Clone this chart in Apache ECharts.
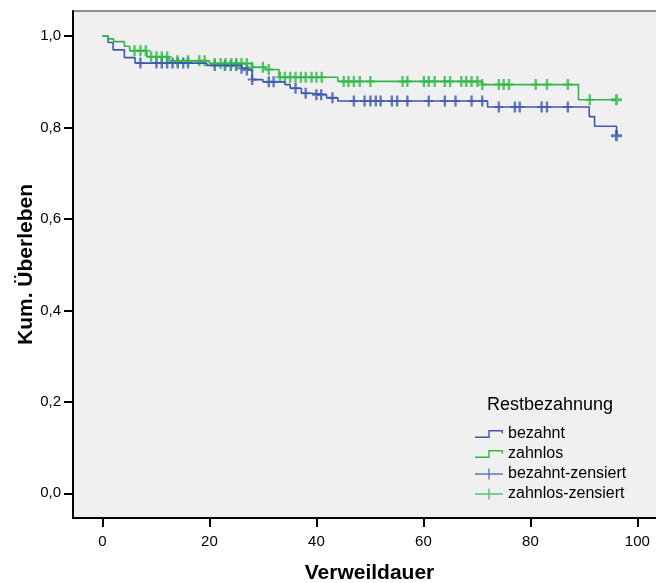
<!DOCTYPE html>
<html>
<head>
<meta charset="utf-8">
<script src="https://cdn.jsdelivr.net/npm/echarts@6/dist/echarts.min.js"></script>
<style>
html, body { margin: 0; padding: 0; background: #fff; }
#main { width: 656px; height: 583px; }
</style>
</head>
<body>
<div id="main"></div>
<script>
// Kaplan-Meier Kurven, Werte
var bezahntTime = [0, 1.05, 2, 4.1, 6.1, 19.5, 26, 27, 28, 30, 34.1, 35.1, 37.2, 39, 41.9, 44, 72, 91, 92, 96.1];
var bezahntSurv = [1.0, 0.986, 0.970, 0.953, 0.941, 0.936, 0.930, 0.926, 0.905, 0.900, 0.894, 0.886, 0.875, 0.872, 0.865, 0.858, 0.845, 0.824, 0.803, 0.782];

var zahnlosTime = [0, 1.1, 2.1, 4.1, 5.1, 8.3, 12.5, 20, 28, 30.5, 33, 44, 71, 89, 96.1];
var zahnlosSurv = [1.0, 0.994, 0.988, 0.978, 0.968, 0.955, 0.946, 0.940, 0.932, 0.927, 0.910, 0.901, 0.894, 0.861, 0.861];

// zensierte Faelle (Zeitpunkte)
var bezahntCensored = [7.1, 10.1, 11.1, 12.1, 13.1, 14.1, 15.1, 16, 21, 22.9, 24, 25, 26, 27, 28, 31.1, 32,
  36.1, 38, 40, 40.9, 43, 47, 49, 50.1, 51.1, 52, 54.1, 55.1, 57, 61, 64, 66, 69, 71, 74.1, 77.1, 78,
  82.1, 83.1, 87, 96.1];
var zahnlosCensored = [6, 7.1, 8.1, 9.1, 10.1, 11.1, 12.1, 14, 16, 18.1, 19.1, 21, 22.1, 23, 24.1, 25, 26, 27,
  28, 30, 31.1, 33.2, 34.1, 35.1, 36.1, 37.1, 38, 39.1, 40, 41, 45.1, 46, 47, 48.1, 50.1, 56.1, 57, 60.1,
  61, 62.1, 64, 65, 67.1, 68, 69, 70.1, 71, 74.1, 75, 76, 81, 83.1, 87, 91.1, 96.1];

var xTicks = [0, 20, 40, 60, 80, 100];
var yTicks = [0, 0.2, 0.4, 0.6, 0.8, 1.0];
var yTickLabels = ['0,0', '0,2', '0,4', '0,6', '0,8', '1,0'];

var BLUE = '#3e58ac';
var GREEN = '#2eb848';
var FONT = 'Liberation Sans, Arial, sans-serif';

var PLUS = 'path://M3.3,0 H5.7 V4.5 H9 V6.5 H5.7 V11 H3.3 V6.5 H0 V4.5 H3.3 Z';
var PLUS_BIG = 'path://M4,0 H7 V4 H11 V7 H7 V11 H4 V7 H0 V4 H4 Z';
var STEP_ICON = 'path://M0,6.6 H13.3 V0 H28 V3.5 H26.6 V1.4 H14.7 V8 H0 Z';
var CENS_ICON = 'path://M0,4.8 H13.3 V0 H14.7 V4.8 H28 V6.2 H14.7 V11 H13.3 V6.2 H0 Z';

function zip(a, b) {
  var out = [];
  for (var i = 0; i < a.length; i++) out.push([a[i], b[i]]);
  return out;
}

// Wert der Treppenfunktion zum Zeitpunkt t
function survAt(times, surv, t) {
  var s = surv[0];
  for (var i = 0; i < times.length; i++) {
    if (times[i] <= t + 1e-9) s = surv[i];
  }
  return s;
}

function censData(cens, times, surv) {
  return cens.map(function (t, i) {
    var item = { value: [t, survAt(times, surv, t)] };
    if (i === cens.length - 1) {
      item.symbol = PLUS_BIG;
      item.symbolSize = [11, 11];
    }
    return item;
  });
}

var chart = echarts.init(document.getElementById('main'), null, { renderer: 'canvas' });

var option = {
  animation: false,
  textStyle: { fontFamily: FONT },
  title: {
    text: 'Restbezahnung',
    left: 487,
    top: 396,
    padding: 0,
    textStyle: { fontSize: 18, fontWeight: 'normal', color: '#000', fontFamily: FONT }
  },
  legend: {
    orient: 'vertical',
    left: 475,
    top: 426,
    padding: 0,
    itemGap: 4,
    itemWidth: 28,
    itemHeight: 11,
    symbolKeepAspect: true,
    textStyle: { fontSize: 16, color: '#000', fontFamily: FONT },
    data: [
      { name: 'bezahnt', icon: STEP_ICON },
      { name: 'zahnlos', icon: STEP_ICON },
      { name: 'bezahnt-zensiert', icon: CENS_ICON },
      { name: 'zahnlos-zensiert', icon: CENS_ICON }
    ]
  },
  grid: {
    left: 73,
    right: -10,
    top: 11,
    bottom: 65,
    outerBoundsMode: 'none',
    show: true,
    backgroundColor: '#f0f0f0',
    borderColor: '#222',
    borderWidth: 1
  },
  xAxis: {
    type: 'value',
    min: -5.5,
    max: 105.35,
    name: 'Verweildauer',
    nameLocation: 'middle',
    nameGap: 45,
    nameMoveOverlap: false,
    nameTextStyle: { fontSize: 21, fontWeight: 'bold', color: '#000', fontFamily: FONT },
    axisLine: { show: true, onZero: false, lineStyle: { color: '#000', width: 2 } },
    axisTick: { show: true, customValues: xTicks, length: 9, lineStyle: { color: '#000', width: 2 } },
    axisLabel: { customValues: xTicks, margin: 16, fontSize: 15, color: '#000', fontFamily: FONT },
    splitLine: { show: false }
  },
  yAxis: {
    type: 'value',
    min: -0.054,
    max: 1.055,
    name: 'Kum. Überleben',
    nameLocation: 'middle',
    nameGap: 36,
    nameMoveOverlap: false,
    nameTextStyle: { fontSize: 21, fontWeight: 'bold', color: '#000', fontFamily: FONT },
    axisLine: { show: true, onZero: false, lineStyle: { color: '#000', width: 2 } },
    axisTick: { show: true, customValues: yTicks, length: 9, lineStyle: { color: '#000', width: 2 } },
    axisLabel: {
      customValues: yTicks,
      margin: 12,
      fontSize: 15,
      color: '#000',
      fontFamily: FONT,
      formatter: function (v) {
        var idx = Math.round(v * 5);
        return yTickLabels[idx];
      }
    },
    splitLine: { show: false }
  },
  series: [
    {
      name: 'bezahnt',
      type: 'line',
      step: 'end',
      showSymbol: false,
      symbol: 'none',
      color: BLUE,
      lineStyle: { color: BLUE, width: 1.6 },
      data: zip(bezahntTime, bezahntSurv)
    },
    {
      name: 'zahnlos',
      type: 'line',
      step: 'end',
      showSymbol: false,
      symbol: 'none',
      color: GREEN,
      lineStyle: { color: GREEN, width: 1.6 },
      data: zip(zahnlosTime, zahnlosSurv)
    },
    {
      name: 'bezahnt-zensiert',
      type: 'scatter',
      symbol: PLUS,
      symbolSize: [9, 11],
      itemStyle: { color: BLUE },
      data: censData(bezahntCensored, bezahntTime, bezahntSurv)
    },
    {
      name: 'zahnlos-zensiert',
      type: 'scatter',
      symbol: PLUS,
      symbolSize: [9, 11],
      itemStyle: { color: GREEN },
      data: censData(zahnlosCensored, zahnlosTime, zahnlosSurv)
    }
  ]
};

chart.setOption(option);
</script>
</body>
</html>
